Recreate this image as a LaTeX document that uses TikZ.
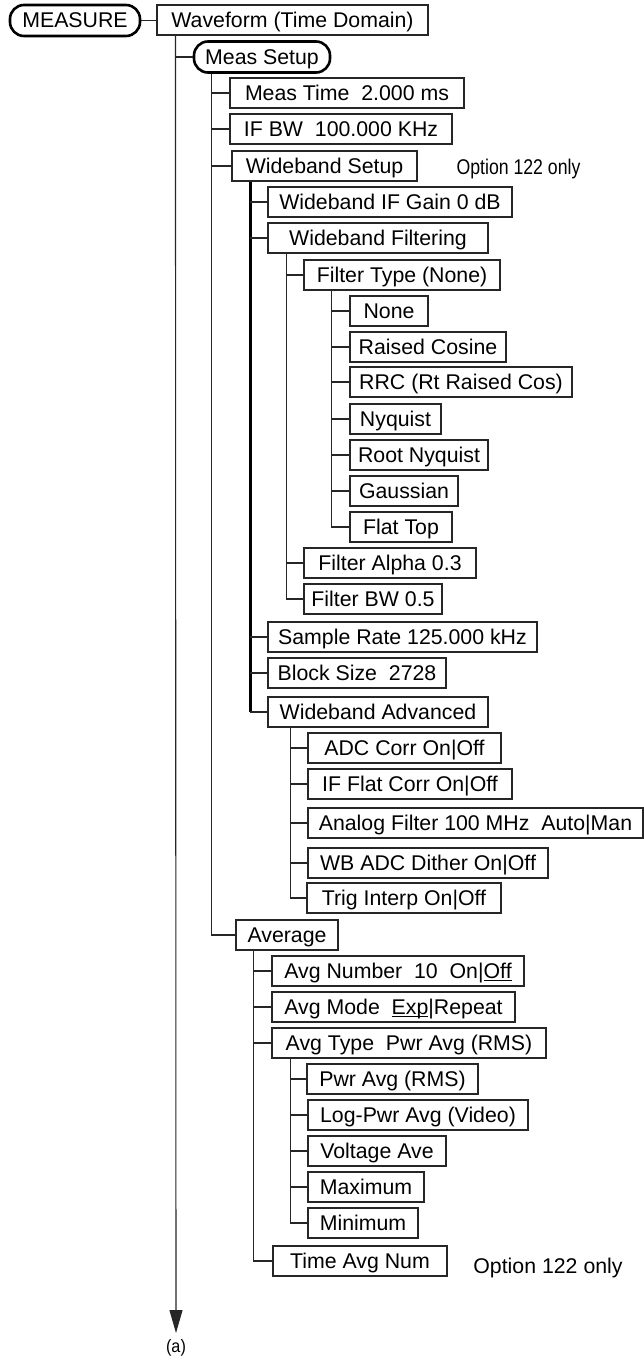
\documentclass[tikz,border=0pt]{standalone}
\usepackage{fontspec}
\setmainfont{Liberation Sans}
\usepackage{graphicx}
\usetikzlibrary{arrows.meta}
\tikzset{
  bx/.style={draw=black!85, line width=1.1pt, minimum height=30pt, inner sep=0pt,
    font=\fontsize{21.3}{24}\selectfont, text height=15.3pt, text depth=0.3pt, align=center},
  pill/.style={bx, draw=black, line width=2.6pt, rounded corners=14pt, minimum height=31pt},
  ln/.style={line width=1.1pt, draw=black!85},
  thk/.style={line width=2.2pt, draw=black},
  note/.style={inner sep=0pt, font=\fontsize{21.3}{24}\selectfont},
}
\newcommand\mybox[6][bx]{\pgfmathsetmacro\bw{#4-#3}\pgfmathsetmacro\bcx{(#3+#4)/2}%
  \node[#1,minimum width=\bw pt] (#2) at (\bcx,#5) {#6};}
\newcommand\br[2]{\draw[ln] (#2.west) -- (#2.west -| #1);}
\newsavebox\ulbox
\newcommand\myul[1]{\sbox\ulbox{#1}\rlap{\rule[-2.6pt]{\wd\ulbox}{1.2pt}}\usebox\ulbox}
\begin{document}
\begin{tikzpicture}[x=1pt,y=-1pt]
\useasboundingbox[fill=white] (0,0) rectangle (644,1362);

\mybox[pill]{meas}{10}{140}{20.5}{MEASURE}
\mybox{wave}{157}{428}{20}{Waveform (Time Domain)}
\draw[ln] (meas.east) -- (meas.east -| wave.west);

\coordinate (t1) at ([xshift=19pt]wave.south west);
\coordinate (aend) at (176,1333);
\draw[ln,-{Triangle[length=23pt,width=13pt]}] (t1) -- (aend);
\node[inner sep=0pt, font=\fontsize{18}{20}\selectfont] (alab) at (176,1348) {\scalebox{0.9}[1]{(a)}};

\mybox[pill]{ms}{194}{330}{57}{Meas Setup}
\br{t1}{ms}

% Meas Setup children
\mybox{mt}{230}{464}{93}{Meas Time\ \ 2.000 ms}
\mybox{ifbw}{230}{452}{129}{IF BW\ \ 100.000 KHz}
\mybox{wbs}{232}{417}{166}{Wideband Setup}
\node[note] (opt1) at (518.5,169) {\scalebox{0.83}[1]{Option 122 only}};
\mybox{avg}{236}{338}{935}{Average}
\coordinate (t2) at ([xshift=19pt]ms.south west);
\draw[ln] (t2) |- (avg.west);
\br{t2}{mt}\br{t2}{ifbw}\br{t2}{wbs}

% Wideband Setup children
\mybox{wbg}{268}{512}{202}{Wideband IF Gain 0 dB}
\mybox{wbf}{268}{488}{238}{Wideband Filtering}
\mybox{sr}{268}{537}{637}{Sample Rate 125.000 kHz}
\mybox{bs}{268}{446}{673}{Block Size\ \ 2728}
\mybox{wba}{268}{488}{712}{Wideband Advanced}
\coordinate (t3) at ([xshift=19pt]wbs.south west);
\draw[thk] (t3) -- (t3 |- wba.west);
\br{t3}{wbg}\br{t3}{wbf}\br{t3}{sr}\br{t3}{bs}\br{t3}{wba}

% Wideband Filtering children
\mybox{ft}{304}{500}{275}{Filter Type (None)}
\mybox{fa}{304}{476}{563}{Filter Alpha 0.3}
\mybox{fbw}{304}{442}{599}{Filter BW 0.5}
\coordinate (t4) at ([xshift=19pt]wbf.south west);
\draw[ln] (t4) |- (fbw.west);
\br{t4}{ft}\br{t4}{fa}

% Filter Type children
\mybox{none}{350}{428}{311}{None}
\mybox{rc}{350}{506}{347}{Raised Cosine}
\mybox{rrc}{350}{572}{382}{RRC (Rt Raised Cos)}
\mybox{nyq}{350}{441}{419}{Nyquist}
\mybox{rnyq}{350}{488}{455}{Root Nyquist}
\mybox{gau}{350}{458}{491}{Gaussian}
\mybox{ftop}{350}{452}{527}{Flat Top}
\coordinate (t5) at ([xshift=28pt]ft.south west);
\draw[ln] (t5) |- (ftop.west);
\br{t5}{none}\br{t5}{rc}\br{t5}{rrc}\br{t5}{nyq}\br{t5}{rnyq}\br{t5}{gau}

% Wideband Advanced children
\mybox{adc}{308}{501}{748}{ADC Corr On|Off}
\mybox{ifc}{308}{512}{784}{IF Flat Corr On|Off}
\mybox{ana}{308}{643}{823}{Analog Filter 100 MHz\ \ Auto|Man}
\mybox{dith}{308}{548}{863}{WB ADC Dither On|Off}
\mybox{trig}{307}{501}{898}{Trig Interp On|Off}
\coordinate (t6) at ([xshift=23pt]wba.south west);
\draw[ln] (t6) |- (trig.west);
\br{t6}{adc}\br{t6}{ifc}\br{t6}{ana}\br{t6}{dith}

% Average children
\mybox{an}{272}{524}{971}{Avg Number\ \ 10\ \ On|\myul{Off}}
\mybox{am}{272}{515}{1007}{Avg Mode\ \ \myul{Exp}|Repeat}
\mybox{at}{272}{546}{1043}{Avg Type\ \ Pwr Avg (RMS)}
\mybox{tan}{273}{447}{1261}{Time Avg Num}
\node[note] (opt2) at (548,1268) {Option 122 only};
\coordinate (t7) at ([xshift=18pt]avg.south west);
\draw[ln] (t7) |- (tan.west);
\br{t7}{an}\br{t7}{am}\br{t7}{at}

% Avg Type children
\mybox{pa}{307}{478}{1079}{Pwr Avg (RMS)}
\mybox{lpa}{308}{528}{1115}{Log-Pwr Avg (Video)}
\mybox{va}{308}{446}{1151}{Voltage Ave}
\mybox{max}{308}{424}{1187}{Maximum}
\mybox{min}{308}{418}{1223}{Minimum}
\coordinate (t8) at ([xshift=19pt]at.south west);
\draw[ln] (t8) |- (min.west);
\br{t8}{pa}\br{t8}{lpa}\br{t8}{va}\br{t8}{max}
\end{tikzpicture}
\end{document}
